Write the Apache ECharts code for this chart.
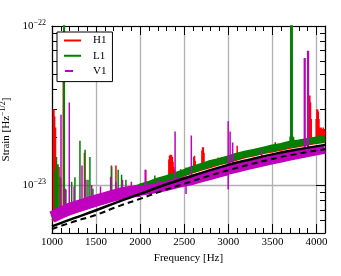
<!DOCTYPE html>
<html><head><meta charset="utf-8">
<script src="https://cdn.jsdelivr.net/npm/echarts@6/dist/echarts.min.js"></script>
<style>html,body{margin:0;padding:0;background:#fff}#c{width:341px;height:276px}</style>
</head><body><div id="c"></div>
<script>
const FONT = 'Liberation Serif';
// Strain values below are given in units of 1e-24 Hz^-1/2
const UNIT_EXP = -24;
const X_MIN = 1000, X_MAX = 4096, X_STEP = 500;
const X_MINOR_TICKS = [1100,1200,1300,1400,1600,1700,1800,1900,2100,2200,2300,2400,2600,2700,2800,2900,3100,3200,3300,3400,3600,3700,3800,3900];
const Y_MIN = 5, Y_MAX = 100;
const Y_MINOR_TICKS = [6,7,8,9,20,30,40,50,60,70,80,90];

// Frequency grid for the noise bands [Hz]
const F_GRID = [1000,1100,1200,1300,1400,1500,1600,1700,1800,1900,2000,2100,2200,2300,2400,2500,2600,2700,2800,2900,3000,3100,3200,3300,3400,3500,3600,3700,3800,3900,4000,4096];
const H1_BAND = [6.0,6.3,6.6,6.9,7.2,7.5,7.8,8.2,8.6,8.9,9.3,9.7,10.2,10.6,11.1,11.6,12.1,12.6,13.1,13.6,14.0,14.6,15.1,15.5,16.0,16.4,16.8,17.3,17.7,18.1,18.5,18.8];
const L1_BAND = [6.2,6.6,6.9,7.2,7.5,7.8,8.1,8.6,8.9,9.3,9.7,10.1,10.6,11.0,11.5,12.0,12.6,13.1,13.7,14.1,14.6,15.2,15.7,16.1,16.6,17.1,17.5,18.1,18.4,18.8,19.2,19.5];
const V1_BAND = [6.3,6.7,7.1,7.4,7.7,8.0,8.3,8.6,8.9,9.1,9.2,9.4,9.6,9.9,10.2,10.5,10.8,11.2,11.6,12.0,12.4,12.8,13.2,13.6,14.0,14.4,14.8,15.2,15.6,16.0,16.4,16.8];

// Spectral lines: [frequency, low, high]
const H1_LINES = [[1015,6.0,30],[1022,6.0,30],[1030,6.0,27],[1040,6.0,23],[1080,6.2,13],[1100,6.3,11],[1128,6.4,45],[1368,7.1,16],[1675,8.1,13.3],[1725,8.3,13.3],[2064,9.5,12.5],
[2325,10.8,14.5],[2333,10.8,15.3],[2341,10.9,15.5],[2349,10.9,15.5],[2357,10.9,15.4],[2365,11.0,15.0],[2373,11.0,14.0],[2381,11.0,13.0],[2389,11.0,12.5],
[2460,11.4,12.6],[2520,11.7,12.9],[2608,12.0,15.0],[2616,12.0,15.3],[2624,12.1,14.2],
[2700,12.6,16.5],[2708,12.6,17.3],[2716,12.7,17.3],[2724,12.7,16.0],[2790,13.0,14.3],
[2885,13.5,14.9],[2920,13.7,14.9],[3040,14.3,15.6],
[3100,14.6,17.7],[3180,15.0,16.4],[3272,15.4,16.2],[3457,16.2,17.0],[3532,16.5,18.6],[3540,16.5,18.0],[3640,17.0,18.3],
[3916,18.1,36.6],[3924,18.1,36.6],[3932,18.2,33],[3940,18.2,26],
[3996,18.5,26],[4004,18.5,30],[4012,18.5,30],[4020,18.6,29],[4028,18.6,26],[4036,18.6,23],[4044,18.7,23],[4052,18.7,23],[4060,18.7,22.5],[4068,18.7,22.5],[4076,18.8,23],[4084,18.8,22.5],[4092,18.8,22.5]];
const L1_LINES = [[1034,6.2,12.5],[1051,6.3,15],[1068,6.4,13.5],[1091,6.5,11.3],[1134,6.7,200],[1140,6.7,200],[1158,6.8,9.4],[1223,7.0,10.5],[1260,7.1,11.2],[1317,7.3,19],[1375,7.4,16.7],[1408,7.5,10.8],[1430,7.6,15],[1464,7.7,9.5],[1675,8.5,13],[1750,8.7,12.5],[1789,8.9,11.6],[1838,9.0,10.8],[2166,10.4,11.5],
[3700,18.0,20.2],[3708,18.0,200],[3716,18.1,200],[3724,18.1,200],[3732,18.1,20.2],[3740,18.2,20.0]];
const V1_LINES = [[1102,6.6,27.7],[1150,6.9,9.5],[1196,7.0,33],[1250,7.1,9.8],[1340,7.4,13.3],[1385,7.6,10.8],[1450,7.7,10.0],[1550,8.0,9.8],[1665,8.4,11.3],[1725,8.6,10.5],[1800,8.8,10.8],[1900,9.0,10.5],[2057,9.3,12.5],[2200,9.7,10.8],[2396,10.3,21.7],[2520,8.8,11.0],[2580,11.0,20.5],[2998,9.4,25.2],[3020,12.8,21.7],[3049,12.9,18.5],[3378,14.0,16.7],[3862,16.2,63],[3870,16.2,63],[3900,16.3,70],[3908,16.3,70]];

// Design curves
const F_CURVE = [1000,1250,1500,1750,2000,2250,2500,2750,3000,3250,3500,3750,4096];
const SOLID = [5.5,6.2,6.95,7.85,8.8,9.9,11.0,12.2,13.4,14.5,15.6,16.6,17.9];
const DASHED = [5.3,5.9,6.5,7.35,8.2,9.2,10.2,11.3,12.4,13.5,14.6,15.6,16.8];

const RED = '#ff0000', GREEN = '#008000', MAG = '#bf00bf';

function band(vals, from, to) {
  const out = [];
  for (let i = from; i <= to; i++) out.push([F_GRID[i], vals[i]]);
  return out;
}
function lines(arr) {
  const out = [];
  arr.forEach(l => { out.push([l[0], l[1]]); out.push([l[0], l[2]]); out.push([l[0], '-']); });
  return out;
}
const base = {type: 'line', symbol: 'none', showSymbol: false, silent: true, animation: false, xAxisIndex: 0, yAxisIndex: 0, clip: true};

const series = [
  Object.assign({}, base, {name: 'H1', data: band(H1_BAND, 0, F_GRID.length - 1), lineStyle: {color: RED, width: 3}, itemStyle: {color: RED}}),
  Object.assign({}, base, {name: 'H1', data: lines(H1_LINES), connectNulls: false, lineStyle: {color: RED, width: 1.5}, itemStyle: {color: RED}}),
  Object.assign({}, base, {name: 'L1', data: band(L1_BAND, 0, F_GRID.length - 1), lineStyle: {color: GREEN, width: 7}, itemStyle: {color: GREEN}}),
  Object.assign({}, base, {name: 'L1', data: lines(L1_LINES), connectNulls: false, lineStyle: {color: GREEN, width: 1.5}, itemStyle: {color: GREEN}}),
  Object.assign({}, base, {name: 'V1', data: band(V1_BAND, 0, 10), lineStyle: {color: MAG, width: 12}, itemStyle: {color: MAG}}),
  Object.assign({}, base, {name: 'V1', data: band(V1_BAND, 10, 20), lineStyle: {color: MAG, width: 10}, itemStyle: {color: MAG}}),
  Object.assign({}, base, {name: 'V1', data: band(V1_BAND, 20, F_GRID.length - 1), lineStyle: {color: MAG, width: 9}, itemStyle: {color: MAG}}),
  Object.assign({}, base, {name: 'V1', data: lines(V1_LINES), connectNulls: false, lineStyle: {color: MAG, width: 1.5}, itemStyle: {color: MAG}}),
  Object.assign({}, base, {name: 'design', smooth: true, data: F_CURVE.map((f, i) => [f, SOLID[i]]), lineStyle: {color: '#000', width: 2.5}}),
  Object.assign({}, base, {name: 'design2', smooth: true, data: F_CURVE.map((f, i) => [f, DASHED[i]]), lineStyle: {color: '#000', width: 2, type: [6, 4]}})
];

const frame = {show: true, lineStyle: {color: '#000', width: 1.2}};
const gridLine = {show: true, lineStyle: {color: '#b0b0b0', width: 1.3}};
function supLabel(v) {
  const e = Math.log10(v);
  if (Math.abs(e - Math.round(e)) > 0.01) return '';
  return '{b|10}{s|\u2212' + Math.abs(Math.round(e) + UNIT_EXP) + '}';
}
const richSup = {b: {fontFamily: FONT, fontSize: 11, color: '#000', lineHeight: 14},
                 s: {fontFamily: FONT, fontSize: 8, color: '#000', verticalAlign: 'top', lineHeight: 9}};
// legend icons: a bar across the icon box (two invisible corner dots fix the box size)
const BOX = ' M0,0h0.01v0.01h-0.01z M16.99,12.99h0.01v0.01h-0.01z';
const ICON_LINE = 'path://M0,5.5H17V7.5H0Z' + BOX;
const ICON_DASH = 'path://M1,5.5H9V7.5H1Z' + BOX;

const option = {
  backgroundColor: '#fff',
  animation: false,
  grid: {left: 52, right: 16, top: 26, bottom: 43, containLabel: false, outerBoundsMode: 'none'},
  legend: {
    left: 57, top: 32, orient: 'vertical',
    backgroundColor: '#fff', borderColor: '#000', borderWidth: 1, borderRadius: 0,
    padding: [2, 6, 4, 7], itemGap: 2.3, itemWidth: 17, itemHeight: 13,
    textStyle: {fontFamily: FONT, fontSize: 11, color: '#000', padding: [0, 0, 0, 7]},
    data: [
      {name: 'H1', icon: ICON_LINE, itemStyle: {color: RED, borderWidth: 0}},
      {name: 'L1', icon: ICON_LINE, itemStyle: {color: GREEN, borderWidth: 0}},
      {name: 'V1', icon: ICON_DASH, itemStyle: {color: MAG, borderWidth: 0}}
    ]
  },
  xAxis: [
    {type: 'value', min: X_MIN, max: X_MAX, interval: X_STEP, position: 'bottom',
     axisLine: frame, axisTick: {show: true, inside: true, length: 9, lineStyle: {color: '#000', width: 1}},
     axisLabel: {showMaxLabel: false, fontFamily: FONT, fontSize: 11, color: '#000', margin: 4, formatter: v => String(v)},
     splitLine: gridLine,
     name: 'Frequency [Hz]', nameLocation: 'middle', nameGap: 20,
     nameTextStyle: {fontFamily: FONT, fontSize: 11, color: '#000'}},
    {type: 'value', min: X_MIN, max: X_MAX, interval: X_STEP, position: 'top',
     axisLine: frame, axisTick: {show: true, inside: true, length: 9, lineStyle: {color: '#000', width: 1}},
     axisLabel: {show: false}, splitLine: {show: false}},
    {type: 'value', min: X_MIN, max: X_MAX, position: 'bottom',
     axisLine: {show: false}, axisTick: {show: true, inside: true, length: 5, customValues: X_MINOR_TICKS, lineStyle: {color: '#000', width: 1}},
     axisLabel: {show: false}, splitLine: {show: false}},
    {type: 'value', min: X_MIN, max: X_MAX, position: 'top',
     axisLine: {show: false}, axisTick: {show: true, inside: true, length: 5, customValues: X_MINOR_TICKS, lineStyle: {color: '#000', width: 1}},
     axisLabel: {show: false}, splitLine: {show: false}}
  ],
  yAxis: [
    {type: 'log', logBase: 10, min: Y_MIN, max: Y_MAX, position: 'left',
     axisLine: frame, axisTick: {show: true, inside: true, length: 9, lineStyle: {color: '#000', width: 1}},
     axisLabel: {showMinLabel: false, margin: 6, formatter: supLabel, rich: richSup},
     splitLine: gridLine,
     name: '{b|Strain [Hz}{s|\u22121/2}{b|]}', nameLocation: 'middle', nameGap: 35,
     nameTextStyle: {rich: richSup}},
    {type: 'log', logBase: 10, min: Y_MIN, max: Y_MAX, position: 'right',
     axisLine: frame, axisTick: {show: true, inside: true, length: 9, lineStyle: {color: '#000', width: 1}},
     axisLabel: {show: false}, splitLine: {show: false}},
    {type: 'log', logBase: 10, min: Y_MIN, max: Y_MAX, position: 'left',
     axisLine: {show: false}, axisTick: {show: true, inside: true, length: 5, customValues: Y_MINOR_TICKS, lineStyle: {color: '#000', width: 1}},
     axisLabel: {show: false}, splitLine: {show: false}},
    {type: 'log', logBase: 10, min: Y_MIN, max: Y_MAX, position: 'right',
     axisLine: {show: false}, axisTick: {show: true, inside: true, length: 5, customValues: Y_MINOR_TICKS, lineStyle: {color: '#000', width: 1}},
     axisLabel: {show: false}, splitLine: {show: false}}
  ],
  series: series
};
const chart = echarts.init(document.getElementById('c'), null, {renderer: 'canvas'});
chart.setOption(option);
</script></body></html>
